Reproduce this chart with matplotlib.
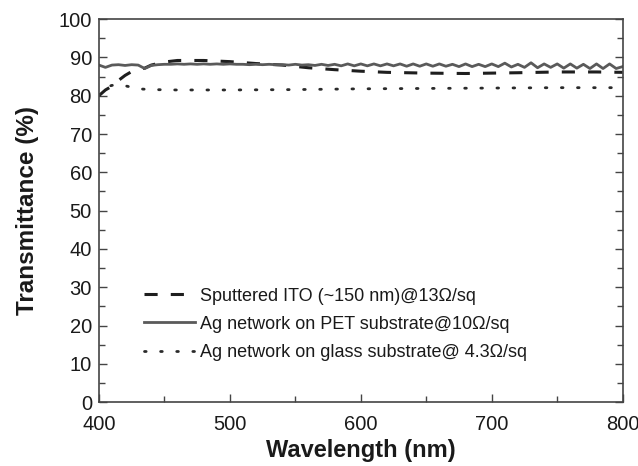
import matplotlib.pyplot as plt
from matplotlib.ticker import MultipleLocator

plt.rcParams['font.family'] = ['Liberation Sans', 'DejaVu Sans']

# Sputtered ITO (dashed)
ito_wl = [400, 405, 410, 415, 420, 425, 430, 435, 440, 450, 460, 480, 500, 520,
          540, 560, 580, 600, 620, 650, 680, 700, 720, 750, 780, 800]
ito_t = [80.0, 81.5, 82.5, 84.0, 85.3, 86.3, 86.8, 87.2, 88.0, 88.8, 89.2, 89.2,
         88.9, 88.4, 88.0, 87.3, 86.8, 86.4, 86.1, 85.9, 85.8, 85.9, 86.0, 86.2,
         86.2, 86.1]

# Ag network on PET (solid), sampled every 5 nm from 400 to 800
pet_wl = list(range(400, 805, 5))
pet_t = [88.0, 87.4, 88.0, 88.1, 87.9, 88.1, 88.0, 87.1, 87.9, 88.1,
         88.2, 88.2, 88.3, 88.2, 88.3, 88.2, 88.3, 88.2, 88.3, 88.2,
         88.3, 88.2, 88.2, 88.1, 88.2, 88.1, 88.2, 88.1, 88.1, 88.0,
         88.2, 88.0, 88.1, 87.9, 88.2, 87.9, 88.2, 87.8, 88.3, 87.8,
         88.3, 87.8, 88.3, 87.8, 88.3, 87.8, 88.3, 87.7, 88.3, 87.7,
         88.3, 87.7, 88.3, 87.7, 88.2, 87.6, 88.3, 87.6, 88.2, 87.6,
         88.3, 87.6, 88.5, 87.5, 88.2, 87.4, 88.6, 87.3, 88.3, 87.4,
         88.3, 87.2, 88.3, 87.2, 88.2, 87.1, 88.3, 87.1, 88.3, 87.1,
         87.6]

# Ag network on glass (dotted)
glass_wl = [400, 403, 406, 410, 415, 420, 425, 430, 440, 460, 500, 550, 600,
            650, 700, 750, 800]
glass_t = [80.0, 81.5, 82.3, 82.7, 82.8, 82.6, 82.2, 81.8, 81.6, 81.5, 81.5,
           81.6, 81.8, 81.9, 82.0, 82.1, 82.1]

labels = ["Sputtered ITO (~150 nm)@13\u03a9/sq",
          "Ag network on PET substrate@10\u03a9/sq",
          "Ag network on glass substrate@ 4.3\u03a9/sq"]

fig = plt.figure(figsize=(6.38, 4.66), dpi=100)
ax = fig.add_axes([0.155, 0.137, 0.821, 0.822])

ax.plot(ito_wl, ito_t, color="#1e1e1e", lw=2.2, linestyle=(0, (4.3, 4.3)),
        label=labels[0])
ax.plot(pet_wl, pet_t, color="#5a5a5a", lw=2.0, label=labels[1])
ax.plot(glass_wl, glass_t, color="#2a2a2a", lw=2.0, linestyle=(0, (0.6, 5.2)),
        dash_capstyle='round', label=labels[2])

ax.set_xlim(400, 800)
ax.set_ylim(0, 100)
ax.xaxis.set_major_locator(MultipleLocator(100))
ax.xaxis.set_minor_locator(MultipleLocator(50))
ax.yaxis.set_major_locator(MultipleLocator(10))
ax.yaxis.set_minor_locator(MultipleLocator(5))
ax.tick_params(which='both', direction='in', top=False, right=True,
               labelsize=14.5, color="#444444", labelcolor="#1a1a1a")
ax.tick_params(which='major', length=6, width=1)
ax.tick_params(which='minor', length=4, width=1)
ax.tick_params(axis='x', pad=9)
ax.tick_params(axis='y', pad=5)
for s in ax.spines.values():
    s.set_color("#444444")
    s.set_linewidth(1.2)

ax.set_xlabel("Wavelength (nm)", fontsize=17, fontweight='bold', labelpad=4,
              color="#1a1a1a")
ax.set_ylabel("Transmittance (%)", fontsize=17.5, fontweight='bold', labelpad=14,
              color="#1a1a1a")

ax.legend(loc='lower left', bbox_to_anchor=(0.055, 0.065), frameon=False,
          fontsize=13, handlelength=2.8, handletextpad=0.3, labelspacing=0.62,
          labelcolor="#1a1a1a")

fig.savefig("out.png", dpi=100)
